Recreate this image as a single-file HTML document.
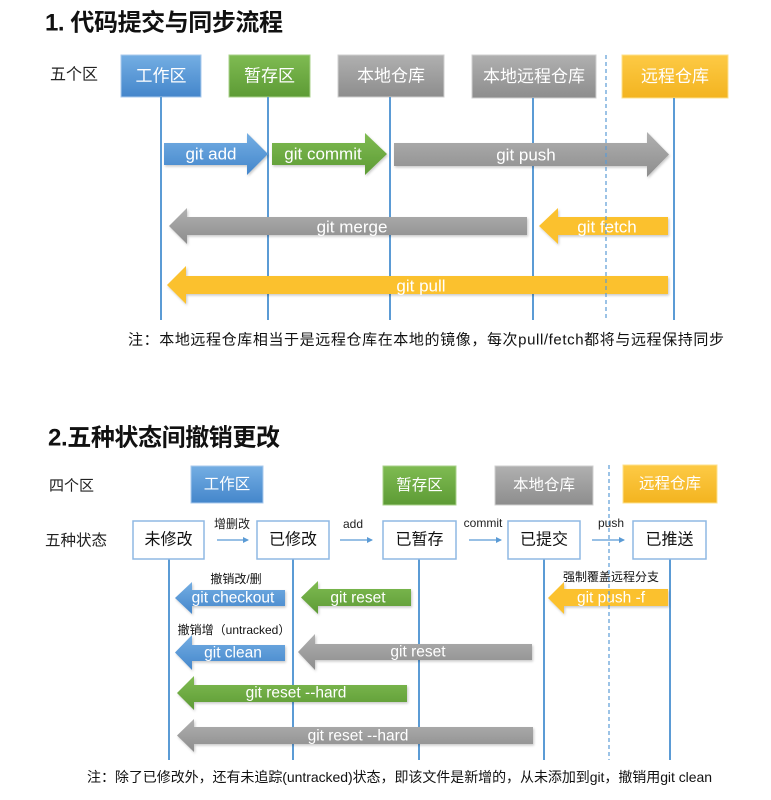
<!DOCTYPE html>
<html><head><meta charset="utf-8">
<style>
html,body{margin:0;padding:0;background:#fff;}
svg{display:block;}
text{font-family:"Liberation Sans","Noto Sans CJK SC",sans-serif;}
</style></head><body>
<svg width="771" height="800" viewBox="0 0 771 800" xmlns="http://www.w3.org/2000/svg">
<defs>
<linearGradient id="gb" x1="0" y1="0" x2="0" y2="1"><stop offset="0" stop-color="#74aee3"/><stop offset="1" stop-color="#4486cb"/></linearGradient>
<linearGradient id="gg" x1="0" y1="0" x2="0" y2="1"><stop offset="0" stop-color="#7fbb52"/><stop offset="1" stop-color="#5d9b35"/></linearGradient>
<linearGradient id="gy" x1="0" y1="0" x2="0" y2="1"><stop offset="0" stop-color="#b0b0b0"/><stop offset="1" stop-color="#8d8d8d"/></linearGradient>
<linearGradient id="go" x1="0" y1="0" x2="0" y2="1"><stop offset="0" stop-color="#fdca45"/><stop offset="1" stop-color="#f3b420"/></linearGradient>
<filter id="sh" x="-5%" y="-20%" width="110%" height="140%"><feDropShadow dx="1" dy="1.5" stdDeviation="1.2" flood-color="#000" flood-opacity="0.22"/></filter>
<marker id="ah" markerWidth="6" markerHeight="6" refX="5" refY="3" orient="auto" markerUnits="userSpaceOnUse"><path d="M0,0 L6,3 L0,6 z" fill="#5b9bd5"/></marker>
</defs>

<!-- ========== Section 1 ========== -->
<text x="45" y="23" font-size="24" font-weight="bold" fill="#111" dominant-baseline="central" textLength="238" lengthAdjust="spacing">1. 代码提交与同步流程</text>
<text x="50" y="75" font-size="16" fill="#222" dominant-baseline="central">五个区</text>

<!-- boxes -->
<rect x="121" y="55" width="80" height="42" fill="url(#gb)" stroke="#a9caec" stroke-width="1"/>
<text x="161" y="76" font-size="17" fill="#fff" text-anchor="middle" dominant-baseline="central">工作区</text>
<rect x="229" y="55" width="81" height="42" fill="url(#gg)" stroke="#a8d08a" stroke-width="1"/>
<text x="269.5" y="76" font-size="17" fill="#fff" text-anchor="middle" dominant-baseline="central">暂存区</text>
<rect x="338" y="55" width="106" height="42" fill="url(#gy)" stroke="#cfcfcf" stroke-width="1"/>
<text x="391" y="76" font-size="17" fill="#fff" text-anchor="middle" dominant-baseline="central">本地仓库</text>
<rect x="472" y="55" width="124" height="43" fill="url(#gy)" stroke="#cfcfcf" stroke-width="1"/>
<text x="534" y="76.5" font-size="17" fill="#fff" text-anchor="middle" dominant-baseline="central">本地远程仓库</text>
<rect x="622" y="55" width="106" height="43" fill="url(#go)" stroke="#fde08c" stroke-width="1"/>
<text x="675" y="76.5" font-size="17" fill="#fff" text-anchor="middle" dominant-baseline="central">远程仓库</text>

<!-- lines -->
<g stroke="#5b9bd5" stroke-width="2">
<line x1="161" y1="97" x2="161" y2="320"/>
<line x1="268" y1="97" x2="268" y2="320"/>
<line x1="390" y1="97" x2="390" y2="320"/>
<line x1="533" y1="98" x2="533" y2="320"/>
<line x1="674" y1="98" x2="674" y2="320"/>
</g>

<!-- arrows -->
<g filter="url(#sh)">
<polygon points="164,143 247,143 247,133 268,154 247,175 247,165 164,165" fill="url(#gb)"/>
<polygon points="272,143 365,143 365,133 387,154 365,175 365,165 272,165" fill="url(#gg)"/>
<polygon points="394,143 647,143 647,132 669,154.5 647,177 647,166 394,166" fill="url(#gy)"/>
<polygon points="169,226 187,208 187,217 527,217 527,235 187,235 187,244" fill="url(#gy)"/>
<polygon points="539,226 558,208 558,217 668,217 668,235 558,235 558,244" fill="#fbc12f"/>
<polygon points="167,285 186,266 186,276 668,276 668,294 186,294 186,304" fill="#fbc12f"/>
</g>
<g font-size="17" fill="#fff" text-anchor="middle" dominant-baseline="central">
<text x="211" y="154">git add</text>
<text x="323" y="154">git commit</text>
<text x="526" y="155">git push</text>
<text x="352" y="227">git merge</text>
<text x="607" y="227">git fetch</text>
<text x="421" y="286">git pull</text>
</g>
<line x1="606" y1="55" x2="606" y2="320" stroke="#5b9bd5" stroke-width="1.2" stroke-dasharray="4,3"/>

<text x="128" y="340" font-size="15" fill="#111" dominant-baseline="central" textLength="596" lengthAdjust="spacing">注：本地远程仓库相当于是远程仓库在本地的镜像，每次pull/fetch都将与远程保持同步</text>

<!-- ========== Section 2 ========== -->
<text x="48" y="438" font-size="24" font-weight="bold" fill="#111" dominant-baseline="central" textLength="232" lengthAdjust="spacing">2.五种状态间撤销更改</text>
<text x="49" y="486" font-size="15" fill="#222" dominant-baseline="central">四个区</text>
<text x="45" y="541" font-size="15.5" fill="#222" dominant-baseline="central">五种状态</text>

<rect x="191" y="466" width="72" height="37" fill="url(#gb)" stroke="#a9caec" stroke-width="1"/>
<text x="227" y="484.5" font-size="15.5" fill="#fff" text-anchor="middle" dominant-baseline="central">工作区</text>
<rect x="383" y="466" width="73" height="39" fill="url(#gg)" stroke="#a8d08a" stroke-width="1"/>
<text x="419.5" y="485.5" font-size="15.5" fill="#fff" text-anchor="middle" dominant-baseline="central">暂存区</text>
<rect x="495" y="466" width="98" height="39" fill="url(#gy)" stroke="#cfcfcf" stroke-width="1"/>
<text x="544" y="485.5" font-size="15.5" fill="#fff" text-anchor="middle" dominant-baseline="central">本地仓库</text>
<rect x="623" y="465" width="94" height="38" fill="url(#go)" stroke="#fde08c" stroke-width="1"/>
<text x="670" y="484" font-size="15.5" fill="#fff" text-anchor="middle" dominant-baseline="central">远程仓库</text>

<!-- lines -->
<g stroke="#5b9bd5" stroke-width="2">
<line x1="169" y1="559" x2="169" y2="760"/>
<line x1="293" y1="559" x2="293" y2="760"/>
<line x1="419" y1="559" x2="419" y2="760"/>
<line x1="544" y1="559" x2="544" y2="760"/>
<line x1="670" y1="559" x2="670" y2="760"/>
</g>

<!-- state boxes -->
<g fill="#fff" stroke="#8fb8e3" stroke-width="1.5">
<rect x="133" y="521" width="71" height="38"/>
<rect x="257" y="521" width="72" height="38"/>
<rect x="383" y="521" width="73" height="38"/>
<rect x="508" y="521" width="72" height="38"/>
<rect x="633" y="521" width="73" height="38"/>
</g>
<g font-size="16" fill="#111" text-anchor="middle" dominant-baseline="central">
<text x="168.5" y="540">未修改</text>
<text x="293" y="540">已修改</text>
<text x="419.5" y="540">已暂存</text>
<text x="544" y="540">已提交</text>
<text x="669.5" y="540">已推送</text>
</g>

<!-- small arrows -->
<g stroke="#5b9bd5" stroke-width="1.2" marker-end="url(#ah)">
<line x1="217" y1="540" x2="248" y2="540"/>
<line x1="340" y1="540" x2="372" y2="540"/>
<line x1="469" y1="540" x2="501" y2="540"/>
<line x1="592" y1="540" x2="624" y2="540"/>
</g>
<g font-size="12" fill="#222" text-anchor="middle" dominant-baseline="central">
<text x="232" y="524">增删改</text>
<text x="353" y="524">add</text>
<text x="483" y="523">commit</text>
<text x="611" y="523">push</text>
</g>

<!-- undo arrows -->
<g filter="url(#sh)">
<polygon points="175,598 192,582 192,590 285,590 285,606 192,606 192,614" fill="url(#gb)"/>
<polygon points="301,597.5 318,581 318,589 411,589 411,606 318,606 318,614" fill="url(#gg)"/>
<polygon points="548,598 564,582 564,589 668,589 668,606 564,606 564,614" fill="#fbc12f"/>
<polygon points="175,652.5 192,635 192,645 285,645 285,661 192,661 192,670" fill="url(#gb)"/>
<polygon points="298,652 315,634 315,644 532,644 532,660 315,660 315,670" fill="url(#gy)"/>
<polygon points="177,693 194,676 194,685 407,685 407,702 194,702 194,710" fill="url(#gg)"/>
<polygon points="177,735.5 194,719 194,727 533,727 533,744 194,744 194,752" fill="url(#gy)"/>
</g>
<g font-size="15.5" fill="#fff" text-anchor="middle" dominant-baseline="central">
<text x="233" y="598">git checkout</text>
<text x="358" y="598">git reset</text>
<text x="611" y="598">git push -f</text>
<text x="233" y="653">git clean</text>
<text x="418" y="652">git reset</text>
<text x="296" y="693">git reset --hard</text>
<text x="358" y="736">git reset --hard</text>
</g>
<g font-size="12" fill="#111" text-anchor="middle" dominant-baseline="central">
<text x="236" y="579">撤销改/删</text>
<text x="234" y="630">撤销增（untracked）</text>
<text x="611" y="577">强制覆盖远程分支</text>
</g>

<line x1="609" y1="465" x2="609" y2="760" stroke="#5b9bd5" stroke-width="1.2" stroke-dasharray="4,3"/>

<text x="87" y="777" font-size="14" fill="#111" dominant-baseline="central" textLength="625" lengthAdjust="spacing">注：除了已修改外，还有未追踪(untracked)状态，即该文件是新增的，从未添加到git，撤销用git clean</text>
</svg>
</body></html>
